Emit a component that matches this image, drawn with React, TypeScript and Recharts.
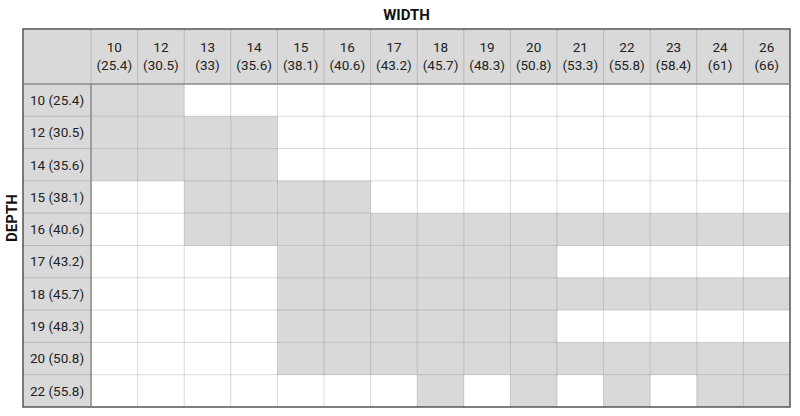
import { ComposedChart, XAxis, YAxis, Scatter, ReferenceArea, ReferenceLine, Label } from "recharts";

const widthInches = ["10", "12", "13", "14", "15", "16", "17", "18", "19", "20", "21", "22", "23", "24", "26"];
const widthCm = ["25.4", "30.5", "33", "35.6", "38.1", "40.6", "43.2", "45.7", "48.3", "50.8", "53.3", "55.8", "58.4", "61", "66"];
const depthInches = ["10", "12", "14", "15", "16", "17", "18", "19", "20", "22"];
const depthCm = ["25.4", "30.5", "35.6", "38.1", "40.6", "43.2", "45.7", "48.3", "50.8", "55.8"];

// 1 = size available (grey cell), one row per depth, one column per width
const available = [
  [1, 1, 0, 0, 0, 0, 0, 0, 0, 0, 0, 0, 0, 0, 0],
  [1, 1, 1, 1, 0, 0, 0, 0, 0, 0, 0, 0, 0, 0, 0],
  [1, 1, 1, 1, 0, 0, 0, 0, 0, 0, 0, 0, 0, 0, 0],
  [0, 0, 1, 1, 1, 1, 0, 0, 0, 0, 0, 0, 0, 0, 0],
  [0, 0, 1, 1, 1, 1, 1, 1, 1, 1, 1, 1, 1, 1, 1],
  [0, 0, 0, 0, 1, 1, 1, 1, 1, 1, 0, 0, 0, 0, 0],
  [0, 0, 0, 0, 1, 1, 1, 1, 1, 1, 1, 1, 1, 1, 1],
  [0, 0, 0, 0, 1, 1, 1, 1, 1, 1, 0, 0, 0, 0, 0],
  [0, 0, 0, 0, 1, 1, 1, 1, 1, 1, 1, 1, 1, 1, 1],
  [0, 0, 0, 0, 0, 0, 0, 1, 0, 1, 0, 1, 0, 1, 1],
];

const COLS = widthInches.length;
const ROWS = depthInches.length;
// header row and label column, in cell units
const LABEL_W = 1.46;
const HEADER_H = 1.7;

const GREY = "#d9d9d9";
const FONT = "Roboto, sans-serif";

function CellText({ viewBox, lines }: any) {
  if (!viewBox) return null;
  const cx = viewBox.x + viewBox.width / 2;
  const cy = viewBox.y + viewBox.height / 2;
  const step = 18;
  const top = cy - ((lines.length - 1) * step) / 2;
  return (
    <text x={cx} textAnchor="middle" fontFamily={FONT} fontSize={13.5} fill="#222">
      {lines.map((l: string, i: number) => (
        <tspan key={i} x={cx} y={top + i * step} dy="0.36em">
          {l}
        </tspan>
      ))}
    </text>
  );
}

export default function App() {
  const cells: { c: number; r: number; x: number; y: number }[] = [];
  available.forEach((row, r) => row.forEach((v, c) => v && cells.push({ c, r, x: c + 0.5, y: r + 0.5 })));

  const gridStroke = { stroke: "#000", strokeOpacity: 0.15, strokeWidth: 1 };

  return (
    <div style={{ position: "absolute", left: 0, top: 0, background: "#fff", fontFamily: FONT }}>
      <ComposedChart width={800} height={416} data={cells} margin={{ top: 0, right: 10, bottom: 9, left: 0 }}>
        <XAxis
          type="number"
          dataKey="x"
          orientation="top"
          domain={[-LABEL_W, COLS]}
          allowDataOverflow
          height={29}
          tick={false}
          tickLine={false}
          axisLine={false}
        >
          <Label value="WIDTH" position="center" fontFamily={FONT} fontSize={15} fontWeight={700} fill="#111" />
        </XAxis>
        <YAxis
          type="number"
          dataKey="y"
          domain={[-HEADER_H, ROWS]}
          reversed
          allowDataOverflow
          width={23}
          tick={false}
          tickLine={false}
          axisLine={false}
        >
          <Label value="DEPTH" position="center" angle={-90} fontFamily={FONT} fontSize={15} fontWeight={700} fill="#111" />
        </YAxis>

        {/* header row and label column */}
        <ReferenceArea x1={-LABEL_W} x2={COLS} y1={-HEADER_H} y2={0} fill={GREY} fillOpacity={1} stroke="none" />
        <ReferenceArea x1={-LABEL_W} x2={0} y1={0} y2={ROWS} fill={GREY} fillOpacity={1} stroke="none" />

        {cells.map(({ c, r }) => (
          <ReferenceArea key={`${c}-${r}`} x1={c} x2={c + 1} y1={r} y2={r + 1} fill={GREY} fillOpacity={1} stroke="none" />
        ))}

        {widthInches.map((_, c) =>
          c === 0 ? null : (
            <ReferenceLine key={`v${c}`} segment={[{ x: c, y: -HEADER_H }, { x: c, y: ROWS }]} {...gridStroke} />
          )
        )}
        {depthInches.map((_, r) =>
          r === 0 ? null : (
            <ReferenceLine key={`h${r}`} segment={[{ x: -LABEL_W, y: r }, { x: COLS, y: r }]} {...gridStroke} />
          )
        )}
        <ReferenceLine segment={[{ x: 0, y: -HEADER_H }, { x: 0, y: 0 }]} {...gridStroke} />
        <ReferenceLine segment={[{ x: 0, y: 0 }, { x: 0, y: ROWS }]} stroke="#888" strokeWidth={1.5} />
        <ReferenceLine segment={[{ x: -LABEL_W, y: 0 }, { x: COLS, y: 0 }]} stroke="#888" strokeWidth={1.5} />

        {widthInches.map((w, c) => (
          <ReferenceArea
            key={`wl${c}`}
            x1={c}
            x2={c + 1}
            y1={-HEADER_H}
            y2={0}
            fillOpacity={0}
            stroke="none"
            label={<CellText lines={[w, `(${widthCm[c]})`]} />}
          />
        ))}
        {depthInches.map((d, r) => (
          <ReferenceArea
            key={`dl${r}`}
            x1={-LABEL_W}
            x2={0}
            y1={r}
            y2={r + 1}
            fillOpacity={0}
            stroke="none"
            label={<CellText lines={[`${d} (${depthCm[r]})`]} />}
          />
        ))}

        <ReferenceArea x1={-LABEL_W} x2={COLS} y1={-HEADER_H} y2={ROWS} fill="none" stroke="#555" strokeWidth={1.5} />

        <Scatter dataKey="y" isAnimationActive={false} shape={() => <g />} />
      </ComposedChart>
    </div>
  );
}
